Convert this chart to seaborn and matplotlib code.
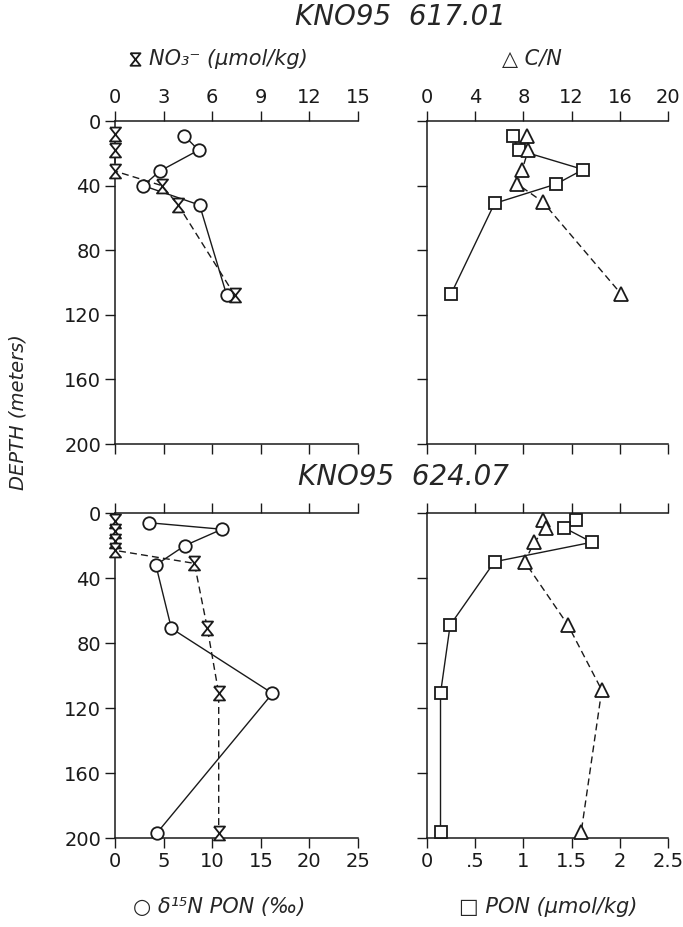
import matplotlib
matplotlib.use("Agg")
import matplotlib.pyplot as plt
from matplotlib.lines import Line2D
from matplotlib.path import Path
import seaborn as sns

sns.set_theme(style="ticks")
plt.rcParams['font.family'] = ['DejaVu Sans', 'Noto Sans CJK SC']

# Station KNO95 617.01
no3_depth_1 = [8, 18, 31, 40, 52, 108]
no3_1 = [0, 0, 0, 2.9, 3.9, 7.4]
d15n_depth_1 = [9, 18, 31, 40, 52, 108]
d15n_1 = [7.1, 8.6, 4.6, 2.9, 8.7, 11.5]
cn_depth_1 = [9, 18, 30, 39, 50, 107]
cn_1 = [8.3, 8.4, 7.9, 7.5, 9.6, 16.1]
pon_depth_1 = [9, 18, 30, 39, 51, 107]
pon_1 = [0.89, 0.95, 1.62, 1.34, 0.70, 0.25]

# Station KNO95 624.07
no3_depth_2 = [5, 11, 17, 23, 31, 71, 111, 197]
no3_2 = [0, 0, 0, 0, 4.9, 5.7, 6.4, 6.4]
d15n_depth_2 = [6, 10, 20, 32, 71, 111, 197]
d15n_2 = [3.5, 11.0, 7.2, 4.2, 5.8, 16.2, 4.3]
cn_depth_2 = [4, 9, 18, 30, 69, 109, 196]
cn_2 = [9.6, 9.9, 8.9, 8.1, 11.7, 14.5, 12.8]
pon_depth_2 = [4, 9, 18, 30, 69, 111, 196]
pon_2 = [1.55, 1.42, 1.71, 0.70, 0.24, 0.14, 0.14]

stations = ['KNO95  617.01', 'KNO95  624.07']
depth_ticks = [0, 40, 80, 120, 160, 200]
no3_ticks = [0, 3, 6, 9, 12, 15]
d15n_ticks = [0, 5, 10, 15, 20, 25]
cn_ticks = [0, 4, 8, 12, 16, 20]
pon_ticks = [0, 0.5, 1, 1.5, 2, 2.5]
pon_labels = ['0', '.5', '1', '1.5', '2', '2.5']

# no installed font has the hourglass sign, so it is drawn as a marker path
hourglass = Path([(-0.8, 1), (0.8, 1), (-0.8, -1), (0.8, -1), (-0.8, 1)])

fig = plt.figure(figsize=(6.83, 9.27), dpi=100)
fig.patch.set_facecolor('white')

pos = {
    (0, 0): [0.1684, 0.5210, 0.3558, 0.3484],
    (0, 1): [0.6252, 0.5210, 0.3529, 0.3484],
    (1, 0): [0.1684, 0.0960, 0.3558, 0.3506],
    (1, 1): [0.6252, 0.0960, 0.3529, 0.3506],
}

common = dict(color='k', linewidth=1.0, markerfacecolor='white', markeredgecolor='k',
              markeredgewidth=1.3, clip_on=False, zorder=4, orient='y', sort=False,
              estimator=None, legend=False)
dashed = (0, (5, 3))


def style_axes(ax, ax2, top_row, left_col, bottom_ticks, top_ticks, bottom_lim, top_lim, bottom_labels=None):
    ax.set_xlim(*bottom_lim)
    ax2.set_xlim(*top_lim)
    ax.set_ylim(200, 0)
    ax.set_xticks(bottom_ticks)
    ax2.set_xticks(top_ticks)
    ax.set_yticks(depth_ticks)
    for a in (ax, ax2):
        a.set_xlabel('')
        a.set_ylabel('')
        a.set_facecolor('none')
        a.spines['right'].set_visible(False)
        a.tick_params(direction='out', length=7, width=1, colors='k', labelsize=14, pad=3)
    ax.spines['top'].set_visible(False)
    ax2.spines['bottom'].set_visible(False)
    ax2.spines['left'].set_visible(False)
    for s in ('left', 'bottom'):
        ax.spines[s].set_linewidth(1.1)
        ax.spines[s].set_color('k')
    ax2.spines['top'].set_linewidth(1.1)
    ax2.spines['top'].set_color('k')
    if top_row:
        ax.tick_params(axis='x', labelbottom=False)
        ax2.tick_params(axis='x', labeltop=True)
    else:
        ax2.tick_params(axis='x', labeltop=False)
        if bottom_labels is not None:
            ax.set_xticklabels(bottom_labels)
    if not left_col:
        ax.tick_params(axis='y', labelleft=False)


data = [
    (no3_depth_1, no3_1, d15n_depth_1, d15n_1, cn_depth_1, cn_1, pon_depth_1, pon_1),
    (no3_depth_2, no3_2, d15n_depth_2, d15n_2, cn_depth_2, cn_2, pon_depth_2, pon_2),
]

for row, (nd, nv, dd, dv, cd, cv, pd_, pv) in enumerate(data):
    # left panel: d15N (bottom scale) and nitrate (top scale)
    ax = fig.add_axes(pos[(row, 0)])
    ax2 = ax.twiny()
    sns.lineplot(x=dv, y=dd, ax=ax, marker='o', markersize=9, linestyle='-', **common)
    sns.lineplot(x=nv, y=nd, ax=ax2, marker=hourglass, markersize=10, linestyle=dashed, **common)
    style_axes(ax, ax2, row == 0, True, d15n_ticks, no3_ticks, (0, 25), (0, 15))

    # right panel: PON (bottom scale) and C/N (top scale)
    ax = fig.add_axes(pos[(row, 1)])
    ax2 = ax.twiny()
    sns.lineplot(x=pv, y=pd_, ax=ax, marker='s', markersize=8.5, linestyle='-', **common)
    sns.lineplot(x=cv, y=cd, ax=ax2, marker='^', markersize=9.5, linestyle=dashed, **common)
    style_axes(ax, ax2, row == 0, False, pon_ticks, cn_ticks, (0, 2.5), (0, 20), pon_labels)

fig.text(0.5857, 0.9817, stations[0], ha='center', va='center', fontsize=20, style='italic')
fig.text(0.5900, 0.4854, stations[1], ha='center', va='center', fontsize=20, style='italic')

# legend key for nitrate, then its label
fig.add_artist(Line2D([0.198], [0.9364], transform=fig.transFigure, marker=hourglass,
                      markersize=9, color='k', markerfacecolor='white', markeredgewidth=1.3,
                      linestyle='none'))
fig.text(0.218, 0.9364, 'NO₃⁻ (μmol/kg)', ha='left', va='center', fontsize=15, style='italic')
fig.text(0.7790, 0.9364, '△ C/N', ha='center', va='center', fontsize=15, style='italic')
fig.text(0.3206, 0.0216, '○ δ¹⁵N PON (‰)', ha='center', va='center', fontsize=15, style='italic')
fig.text(0.8023, 0.0216, '□ PON (μmol/kg)', ha='center', va='center', fontsize=15, style='italic')
fig.text(0.026, 0.555, 'DEPTH (meters)', ha='center', va='center', rotation=90, fontsize=14, style='italic')

fig.savefig('out.png', dpi=100, facecolor='white')
